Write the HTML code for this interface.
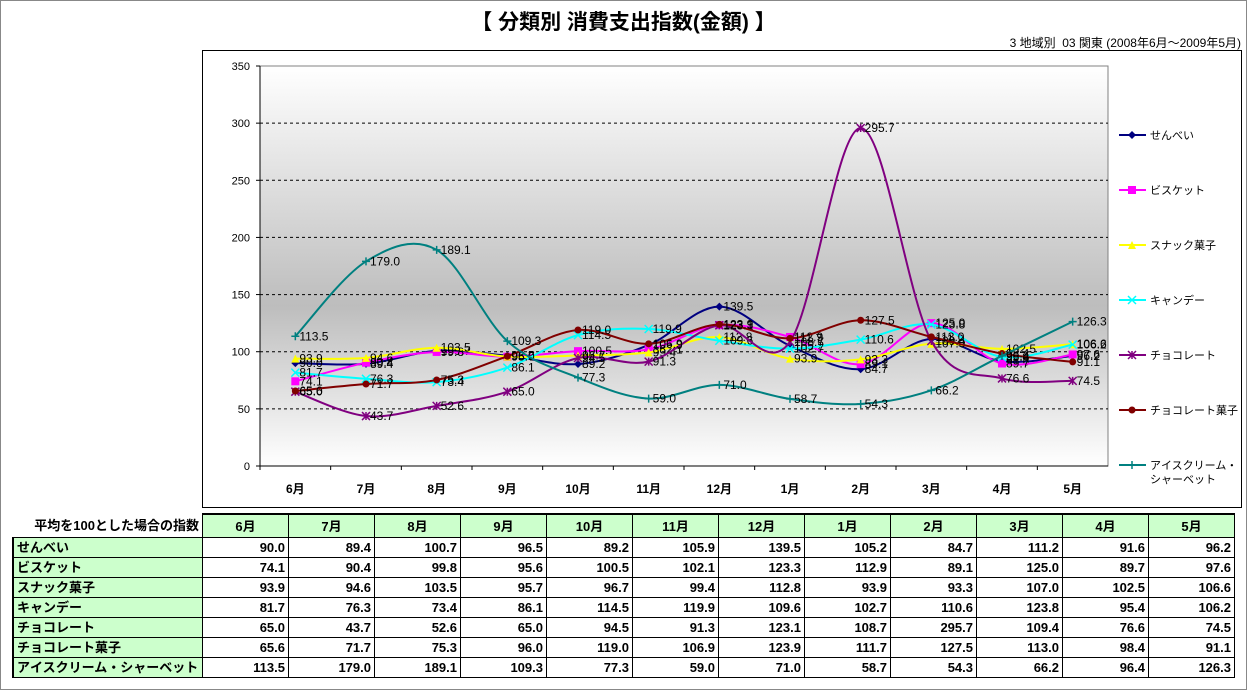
<!DOCTYPE html>
<html><head><meta charset="utf-8">
<style>
body{margin:0;width:1247px;height:690px;overflow:hidden;background:#fff;font-family:"Liberation Sans","Noto Sans CJK JP",sans-serif;}
#frame{position:absolute;left:0;top:0;width:1245px;height:688px;border:1px solid #888;}
#title{position:absolute;left:0;width:1247px;top:6px;text-align:center;font-size:21px;font-weight:bold;}
#sub{position:absolute;right:6px;top:34px;font-size:12px;}
#chartbox{position:absolute;left:202px;top:50px;width:1038px;height:456px;border:1px solid #000;}
svg{position:absolute;left:0;top:0;}
#tbl{position:absolute;left:12px;top:513px;}
table{border-collapse:collapse;font-size:13px;font-weight:bold;}
td{height:19px;padding:0 3px;border:1px solid #000;line-height:19px;}
td.num{width:79px;text-align:right;background:#fff;}
td.lab{width:182px;background:#ccffcc;border-left:2px solid #000;}
td.hd{background:#ccffcc;text-align:center;height:22px;}
td.corner{border:none;text-align:right;background:#fff;}
</style></head><body>
<div id="frame"></div>
<div id="title">【 分類別 消費支出指数(金額) 】</div>
<div id="sub">3 地域別&nbsp; 03 関東 (2008年6月～2009年5月)</div>
<div id="chartbox"></div>
<svg id="chart" width="1247" height="690"></svg>
<div id="tbl"><table id="t"></table></div>
<script>
const categories=["6月","7月","8月","9月","10月","11月","12月","1月","2月","3月","4月","5月"];
const seriesNames=["せんべい","ビスケット","スナック菓子","キャンデー","チョコレート","チョコレート菓子","アイスクリーム・シャーベット"];
const senbei=[90.0,89.4,100.7,96.5,89.2,105.9,139.5,105.2,84.7,111.2,91.6,96.2];
const biscuit=[74.1,90.4,99.8,95.6,100.5,102.1,123.3,112.9,89.1,125.0,89.7,97.6];
const snack=[93.9,94.6,103.5,95.7,96.7,99.4,112.8,93.9,93.3,107.0,102.5,106.6];
const candy=[81.7,76.3,73.4,86.1,114.5,119.9,109.6,102.7,110.6,123.8,95.4,106.2];
const choco=[65.0,43.7,52.6,65.0,94.5,91.3,123.1,108.7,295.7,109.4,76.6,74.5];
const chocoSweets=[65.6,71.7,75.3,96.0,119.0,106.9,123.9,111.7,127.5,113.0,98.4,91.1];
const icecream=[113.5,179.0,189.1,109.3,77.3,59.0,71.0,58.7,54.3,66.2,96.4,126.3];
const yTicks=[0,50,100,150,200,250,300,350];
const seriesValues=[senbei,biscuit,snack,candy,choco,chocoSweets,icecream];
const colors=["#000080","#ff00ff","#ffff00","#00ffff","#800080","#800000","#008080"];
const markers=["diamond","square","triangle","x","star","circle","plus"];

const NS="http://www.w3.org/2000/svg";
const svg=document.getElementById('chart');
const PL=260,PR=1108,PT=66,PB=466,YMAX=350;
const step=(PR-PL)/categories.length;
const xS=i=>PL+step*(i+0.5);
const yS=v=>PB-(v/YMAX)*(PB-PT);
function mk(tag,a){const e=document.createElementNS(NS,tag);for(const k in a)e.setAttribute(k,a[k]);svg.appendChild(e);return e;}

const defs=mk('defs',{});
defs.innerHTML='<linearGradient id="bg" x1="0" y1="0" x2="0" y2="1"><stop offset="0" stop-color="#ffffff"/><stop offset="0.6" stop-color="#bdbdbd"/><stop offset="1" stop-color="#ffffff"/></linearGradient>';
let r=mk('rect',{x:PL,y:PT,width:PR-PL,height:PB-PT,fill:'url(#bg)',stroke:'#808080'});


yTicks.forEach(t=>{
  const y=yS(t);
  if(t>0&&t<YMAX){let g=mk('line',{x1:PL,x2:PR,y1:y,y2:y,stroke:'#000','stroke-dasharray':'3,3','stroke-width':1});
    
    }
  mk('line',{x1:PL-4,x2:PL,y1:y,y2:y,stroke:'#000'});
  let tx=mk('text',{x:PL-10,y:y+4,'text-anchor':'end','font-size':11});tx.textContent=t;
  
  
});
mk('line',{x1:PL,x2:PL,y1:PT,y2:PB,stroke:'#000'});
mk('line',{x1:PL,x2:PR,y1:PB,y2:PB,stroke:'#000'});
categories.forEach((c,i)=>{
  mk('line',{x1:PL+step*i,x2:PL+step*i,y1:PB,y2:PB+4,stroke:'#000'});
  let tx=mk('text',{x:xS(i),y:PB+27,'text-anchor':'middle','font-size':12,'font-weight':'bold'});tx.textContent=c;
  
  
});
function smooth(pts){
  let d=`M${pts[0][0]},${pts[0][1]}`;
  for(let i=0;i<pts.length-1;i++){
    const p0=pts[Math.max(0,i-1)],p1=pts[i],p2=pts[i+1],p3=pts[Math.min(pts.length-1,i+2)];
    const t=1/6;
    d+=` C${p1[0]+(p2[0]-p0[0])*t},${p1[1]+(p2[1]-p0[1])*t} ${p2[0]-(p3[0]-p1[0])*t},${p2[1]-(p3[1]-p1[1])*t} ${p2[0]},${p2[1]}`;
  }
  return d;
}
function marker(type,x,y,c,parent){
  let e;
  const s=4;
  if(type==='diamond')e=`<polygon points="${x},${y-s} ${x+s},${y} ${x},${y+s} ${x-s},${y}" fill="${c}"/>`;
  else if(type==='square')e=`<rect x="${x-s}" y="${y-s}" width="${2*s}" height="${2*s}" fill="${c}"/>`;
  else if(type==='triangle')e=`<polygon points="${x},${y-s} ${x+s},${y+s} ${x-s},${y+s}" fill="${c}"/>`;
  else if(type==='x')e=`<path d="M${x-s},${y-s}L${x+s},${y+s}M${x-s},${y+s}L${x+s},${y-s}" stroke="${c}" stroke-width="1.5"/>`;
  else if(type==='star')e=`<path d="M${x-s},${y-s}L${x+s},${y+s}M${x-s},${y+s}L${x+s},${y-s}M${x},${y-s}L${x},${y+s}" stroke="${c}" stroke-width="1.5"/>`;
  else if(type==='circle')e=`<circle cx="${x}" cy="${y}" r="${s-0.5}" fill="${c}"/>`;
  else e=`<path d="M${x-s},${y}L${x+s},${y}M${x},${y-s}L${x},${y+s}" stroke="${c}" stroke-width="1.5"/>`;
  parent.insertAdjacentHTML('beforeend',e);
}
seriesValues.forEach((vals,si)=>{
  const g=mk('g',{});
  
  
  const pts=vals.map((v,i)=>[xS(i),yS(v)]);
  const p=document.createElementNS(NS,'path');
  p.setAttribute('d',smooth(pts));p.setAttribute('fill','none');p.setAttribute('stroke',colors[si]);p.setAttribute('stroke-width',2);
  g.appendChild(p);
  pts.forEach(pt=>marker(markers[si],pt[0],pt[1],colors[si],g));
  vals.forEach((v,i)=>{
    const t=document.createElementNS(NS,'text');
    t.setAttribute('x',pts[i][0]+4);t.setAttribute('y',pts[i][1]+4);t.setAttribute('font-size',12);
    t.textContent=v.toFixed(1);
    
    
    g.appendChild(t);
  });
  const ly=135+si*55;
  const lg=mk('g',{});
  
  
  lg.insertAdjacentHTML('beforeend',`<line x1="1119" x2="1146" y1="${ly}" y2="${ly}" stroke="${colors[si]}" stroke-width="2"/>`);
  marker(markers[si],1132,ly,colors[si],lg);
  const nm=seriesNames[si];
  if(si===6){
    lg.insertAdjacentHTML('beforeend',`<text x="1150" y="${ly+4}" font-size="11">アイスクリーム・</text><text x="1150" y="${ly+18}" font-size="11">シャーベット</text>`);
  } else lg.insertAdjacentHTML('beforeend',`<text x="1150" y="${ly+4}" font-size="11">${nm}</text>`);
});
const tb=document.getElementById('t');
let h='<tr><td class="corner" style="width:182px">平均を100とした場合の指数</td>';
categories.forEach(c=>h+=`<td class="hd" style="width:79px;border-top:2px solid #000">${c}</td>`);
h+='</tr>';
seriesValues.forEach((vals,si)=>{
  h+=`<tr><td class="lab">${seriesNames[si]}</td>`;
  vals.forEach(v=>h+=`<td class="num">${v.toFixed(1)}</td>`);
  h+='</tr>';
});
tb.innerHTML=h;
</script>
</body></html>
